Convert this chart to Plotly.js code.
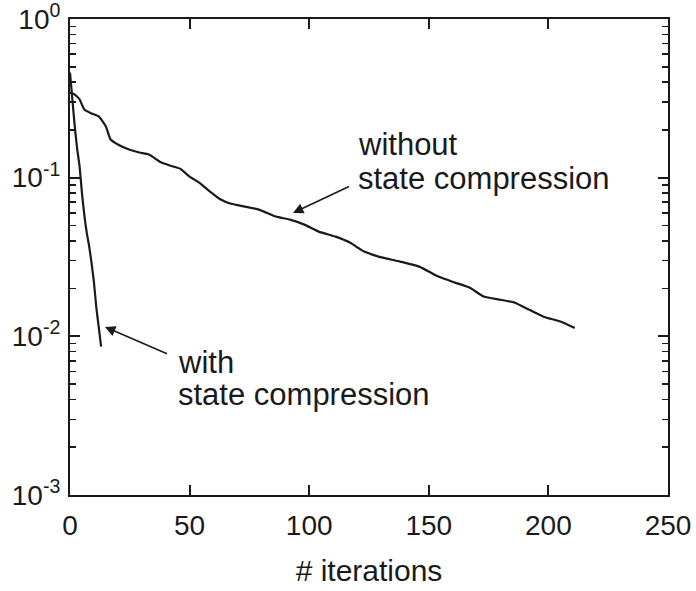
<!DOCTYPE html>
<html>
<head>
<meta charset="utf-8">
<script src="https://cdn.plot.ly/plotly-3.0.1.min.js"></script>
<style>html,body{margin:0;padding:0;background:#fff;}</style>
</head>
<body>
<div id="chart" style="width:696px;height:591px;"></div>
<script>
// "with state compression"
var withIter = [0, 1, 2, 3, 4, 5, 6, 7, 8, 9, 10, 11, 12, 13];
var withVal  = [0.46, 0.31, 0.21, 0.152, 0.118, 0.080, 0.058, 0.045, 0.037, 0.029, 0.022, 0.0152, 0.0115, 0.0086];

// "without state compression"
var withoutIter = [0, 2, 4, 6, 9, 12, 15, 17, 20, 25, 29, 33, 38, 42, 46, 50, 54, 58, 63, 67, 71, 79, 86, 92, 98, 104, 111, 117, 123, 129, 138, 146, 154, 161, 167, 173, 180, 186, 192, 198, 205, 211];
var withoutVal  = [0.344, 0.334, 0.311, 0.269, 0.254, 0.243, 0.210, 0.174, 0.162, 0.150, 0.144, 0.140, 0.125, 0.119, 0.114, 0.1016, 0.0931, 0.0829, 0.0728, 0.0687, 0.0667, 0.0629, 0.0569, 0.0544, 0.0506, 0.0457, 0.0425, 0.0390, 0.0342, 0.0318, 0.0296, 0.0275, 0.0238, 0.0218, 0.0203, 0.0178, 0.0170, 0.0163, 0.0147, 0.0133, 0.0124, 0.0113];

var xTicks = [0, 50, 100, 150, 200, 250];
var yTickVals = [1, 0.1, 0.01, 0.001];
var yTickText = ['10<sup>0</sup>', '10<sup>-1</sup>', '10<sup>-2</sup>', '10<sup>-3</sup>'];

// minor tick positions (2..9 within each decade)
var minorVals = [];
[0.001, 0.01, 0.1].forEach(function (d) {
  for (var k = 2; k <= 9; k++) minorVals.push(d * k);
});

var FONT = 'Liberation Sans, Arial, Helvetica, sans-serif';
var INK = '#1a1a1a';

var L = 70, R = 668, T = 19, B = 495;
function px(x) { return (x - L) / (R - L); }
function py(y) { return (B - y) / (B - T); }

var traces = [
  { x: withoutIter, y: withoutVal, mode: 'lines', line: { color: INK, width: 2.2, shape: 'spline', smoothing: 0.5 }, hoverinfo: 'skip' },
  { x: withIter, y: withVal, yaxis: 'y2', mode: 'lines', line: { color: INK, width: 2.2, shape: 'spline', smoothing: 0.5 }, hoverinfo: 'skip' }
];

var annFont = { family: FONT, size: 31, color: INK };
var layout = {
  width: 696, height: 591,
  margin: { l: L, r: 696 - R, t: T, b: 591 - B, pad: 0 },
  paper_bgcolor: '#fff', plot_bgcolor: '#fff',
  showlegend: false,
  font: { family: FONT, color: INK },
  xaxis: {
    range: [0, 250], tickvals: xTicks, ticktext: xTicks.map(String),
    ticks: 'inside', ticklen: 10, tickwidth: 2, tickcolor: INK,
    showline: true, linecolor: INK, linewidth: 2, mirror: 'ticks',
    showgrid: false, zeroline: false,
    tickfont: { family: FONT, size: 28, color: INK },
    ticklabelstandoff: 4, ticklabeloverflow: 'allow',
    title: { text: '# iterations', font: { family: FONT, size: 30, color: INK }, standoff: 20 }
  },
  yaxis: {
    type: 'log', range: [-3, 0], tickvals: yTickVals, ticktext: yTickText,
    ticks: 'inside', ticklen: 10, tickwidth: 2, tickcolor: INK,
    showline: true, linecolor: INK, linewidth: 2, mirror: 'ticks',
    showgrid: false, zeroline: false,
    tickfont: { family: FONT, size: 28, color: INK },
    ticklabelstandoff: 2, ticklabeloverflow: 'allow'
  },
  yaxis2: {
    type: 'log', range: [-3, 0], overlaying: 'y', side: 'left',
    tickvals: minorVals, showticklabels: false,
    ticks: 'inside', ticklen: 6, tickwidth: 1.5, tickcolor: INK,
    showline: true, linecolor: INK, linewidth: 2, mirror: 'ticks',
    showgrid: false, zeroline: false
  },
  annotations: [
    { xref: 'paper', yref: 'paper', x: px(356), y: py(145), xanchor: 'left', yanchor: 'middle', text: 'without', showarrow: false, font: annFont },
    { xref: 'paper', yref: 'paper', x: px(356), y: py(178), xanchor: 'left', yanchor: 'middle', text: 'state compression', showarrow: false, font: annFont },
    { xref: 'paper', yref: 'paper', x: px(176), y: py(362), xanchor: 'left', yanchor: 'middle', text: 'with', showarrow: false, font: annFont },
    { xref: 'paper', yref: 'paper', x: px(176), y: py(394), xanchor: 'left', yanchor: 'middle', text: 'state compression', showarrow: false, font: annFont },
    { xref: 'paper', yref: 'paper', x: px(293), y: py(213), axref: 'pixel', ayref: 'pixel', text: ' ', showarrow: true, arrowhead: 2, arrowsize: 1.3, arrowwidth: 1.6, arrowcolor: INK, ax: 59, ay: -28, standoff: 0 },
    { xref: 'paper', yref: 'paper', x: px(105), y: py(327), axref: 'pixel', ayref: 'pixel', text: ' ', showarrow: true, arrowhead: 2, arrowsize: 1.3, arrowwidth: 1.6, arrowcolor: INK, ax: 65, ay: 28, standoff: 0 }
  ]
};

Plotly.newPlot('chart', traces, layout, { staticPlot: true, displayModeBar: false });
</script>
</body>
</html>
